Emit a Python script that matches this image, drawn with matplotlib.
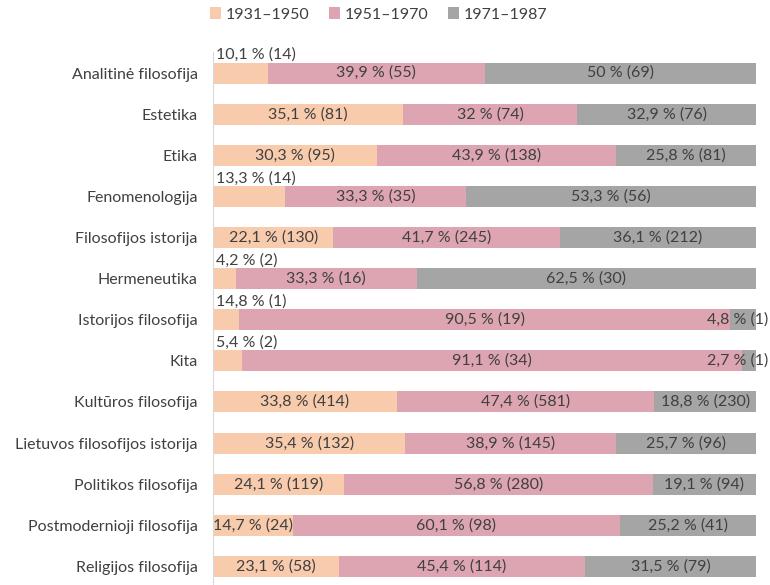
import numpy as np
import matplotlib
matplotlib.use("Agg")
import matplotlib.pyplot as plt

plt.rcParams["font.family"] = ["Lato", "DejaVu Sans"]

categories = [
    "Analitinė filosofija", "Estetika", "Etika", "Fenomenologija",
    "Filosofijos istorija", "Hermeneutika", "Istorijos filosofija", "Kita",
    "Kultūros filosofija", "Lietuvos filosofijos istorija",
    "Politikos filosofija", "Postmodernioji filosofija", "Religijos filosofija",
]
series_names = ["1931–1950", "1951–1970", "1971–1987"]

# counts per period
c_1931 = [14, 81, 95, 14, 130, 2, 1, 2, 414, 132, 119, 24, 58]
c_1951 = [55, 74, 138, 35, 245, 16, 19, 34, 581, 145, 280, 98, 114]
c_1971 = [69, 76, 81, 56, 212, 30, 1, 1, 230, 96, 94, 41, 79]

# percentage labels as printed on the chart
p_1931 = ["10,1", "35,1", "30,3", "13,3", "22,1", "4,2", "14,8", "5,4",
          "33,8", "35,4", "24,1", "14,7", "23,1"]
p_1951 = ["39,9", "32", "43,9", "33,3", "41,7", "33,3", "90,5", "91,1",
          "47,4", "38,9", "56,8", "60,1", "45,4"]
p_1971 = ["50", "32,9", "25,8", "53,3", "36,1", "62,5", "4,8", "2,7",
          "18,8", "25,7", "19,1", "25,2", "31,5"]

# first-period labels drawn above the bar
above_first = [True, False, False, True, False, True, True, True,
               False, False, False, False, False]

colors = ["#F8CBAD", "#DDA5B1", "#A5A5A5"]
text_color = "#404040"
fs = 11.5

counts = np.array([c_1931, c_1951, c_1971], dtype=float)
totals = counts.sum(axis=0)
shares = counts / totals * 100
labels = [p_1931, p_1951, p_1971]

fig = plt.figure(figsize=(7.7, 5.85), dpi=100)
ax = fig.add_axes([0.2766, -0.0034, 0.7055, 0.9137])

y = np.arange(len(categories))
left = np.zeros(len(categories))
handles = []
for k in range(3):
    bars = ax.barh(y, shares[k], left=left, height=0.51, color=colors[k],
                   label=series_names[k])
    handles.append(bars)
    for i in range(len(categories)):
        txt = f"{labels[k][i]} % ({int(counts[k][i])})"
        if k == 0 and above_first[i]:
            ax.text(left[i] + 0.6, y[i] - 0.27, txt, ha="left", va="bottom",
                    fontsize=fs, color=text_color)
        elif k == 2 and shares[k][i] < 8:
            # narrow last segment: label pushed to the right edge
            ax.text(102.3, y[i], txt, ha="right", va="center",
                    fontsize=fs, color=text_color, clip_on=False)
        else:
            ax.text(left[i] + shares[k][i] / 2, y[i], txt, ha="center",
                    va="center", fontsize=fs, color=text_color)
    left = left + shares[k]

ax.set_xlim(0, 100)
ax.set_ylim(len(categories) - 0.5, -0.5)
ax.set_yticks(y)
ax.set_yticklabels(categories, fontsize=fs, color=text_color)
ax.tick_params(axis="y", length=0, pad=11)
ax.set_xticks([])
for s in ["top", "right", "bottom"]:
    ax.spines[s].set_visible(False)
ax.spines["left"].set_color("#D9D9D9")

fig.legend(handles=handles, labels=series_names, loc="upper center",
           bbox_to_anchor=(0.492, 1.012), ncol=3, frameon=False, fontsize=fs,
           handlelength=0.7, handleheight=0.7, handletextpad=0.3,
           columnspacing=1.2, labelcolor=text_color)

fig.savefig("out.png", dpi=100)
